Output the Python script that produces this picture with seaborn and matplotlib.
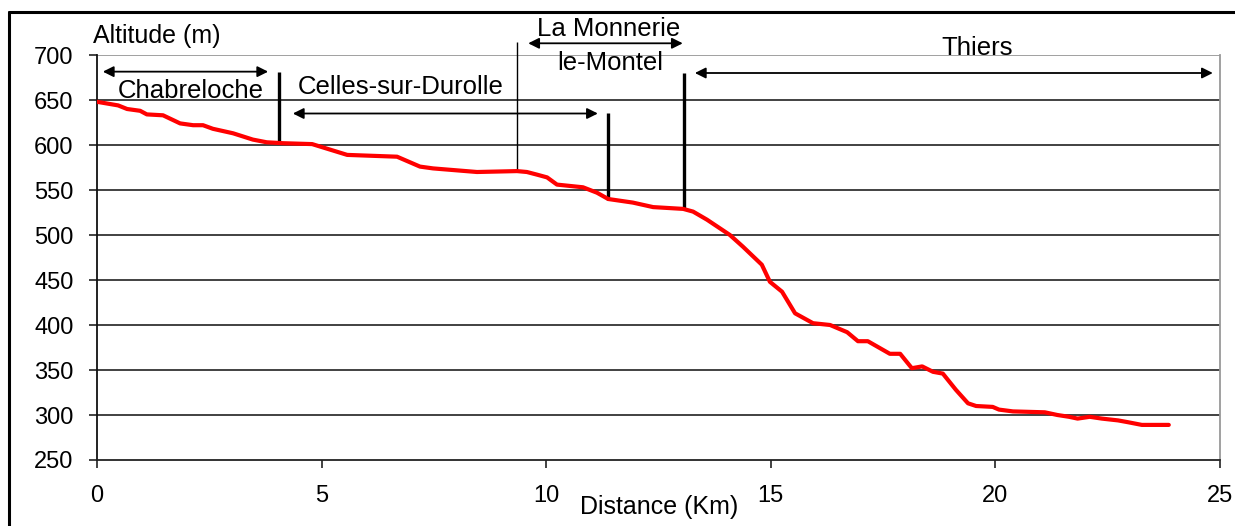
import matplotlib
matplotlib.use("Agg")
import matplotlib.pyplot as plt
from matplotlib.lines import Line2D
import seaborn as sns
import pandas as pd

# ---- data ----
distance_km = [0, 0.47, 0.67, 0.96, 1.11, 1.47, 1.85, 2.14, 2.36, 2.58, 3.03, 3.47, 3.78, 4.14,
               4.79, 5.57, 6.68, 7.19, 7.48, 8.46, 9.35, 9.57, 9.80, 10.02, 10.24, 10.82, 11.13,
               11.38, 11.93, 12.38, 13.05, 13.27, 13.58, 14.09, 14.38, 14.80, 14.98, 15.25, 15.54,
               15.94, 16.32, 16.70, 16.94, 17.16, 17.65, 17.88, 18.14, 18.37, 18.61, 18.83, 19.12,
               19.39, 19.57, 19.94, 20.08, 20.39, 21.10, 21.38, 21.64, 21.83, 22.10, 22.37, 22.73,
               22.95, 23.26, 23.86]
altitude_m = [648, 644, 640, 638, 634, 633, 624, 622, 622, 618, 613, 606, 603, 602,
              601, 589, 587, 576, 574, 570, 571, 570, 567, 564, 556, 553, 547,
              540, 536, 531, 529, 526, 517, 500, 487, 467, 448, 437, 413,
              402, 400, 392, 382, 382, 368, 368, 352, 354, 348, 346, 328,
              313, 310, 309, 306, 304, 303, 300, 298, 296, 298, 296, 294,
              292, 289, 289]

x_ticks = [0, 5, 10, 15, 20, 25]
y_ticks = [250, 300, 350, 400, 450, 500, 550, 600, 650, 700]

# town labels: name, x (km), y (m)
town_names = ["Chabreloche", "Celles-sur-Durolle", "La Monnerie", "le-Montel", "Thiers"]
town_x = [2.09, 6.75, 11.39, 11.42, 19.6]
town_y = [660, 664, 729, 691, 708]

# double arrows: start km, end km, altitude
arrow_start = [0.13, 4.36, 9.60, 13.31]
arrow_end = [3.81, 11.15, 13.04, 24.84]
arrow_y = [681.5, 635, 713, 680]

# boundary markers: km, bottom m, top m, width
marker_x = [4.06, 9.36, 11.38, 13.07]
marker_bottom = [602, 572, 539, 530]
marker_top = [681.5, 715, 636, 680]
marker_width = [2.4, 1.0, 2.4, 2.4]

df = pd.DataFrame({"Distance (Km)": distance_km, "Altitude (m)": altitude_m})

sns.set_theme(style="white")
plt.rcParams["font.family"] = ["Liberation Sans", "DejaVu Sans"]
plt.rcParams["text.color"] = "black"
plt.rcParams["axes.labelcolor"] = "black"
plt.rcParams["xtick.color"] = "black"
plt.rcParams["ytick.color"] = "black"

fig = plt.figure(figsize=(12.35, 5.26), dpi=100)
ax = fig.add_axes([97 / 1235, 1 - 460 / 526, 1123 / 1235, 405 / 526])

# gridlines
for v in y_ticks[1:]:
    ax.axhline(v, color="#999999" if v == 700 else "#333333", lw=1.3, zorder=1)

sns.lineplot(data=df, x="Distance (Km)", y="Altitude (m)", ax=ax, color="#ff0000",
             linewidth=3.0, zorder=5, sort=False)

ax.set_xlim(0, 25)
ax.set_ylim(250, 700)
ax.set_xticks(x_ticks)
ax.set_yticks(y_ticks)
ax.set_xticklabels([str(t) for t in x_ticks])
ax.set_yticklabels([str(t) for t in y_ticks])

ax.spines["top"].set_visible(False)
ax.spines["right"].set_color("#999999")
ax.spines["right"].set_linewidth(1.3)
ax.spines["left"].set_color("#111111")
ax.spines["left"].set_linewidth(1.3)
ax.spines["bottom"].set_color("#222222")
ax.spines["bottom"].set_linewidth(1.3)

ax.tick_params(axis="x", direction="out", length=6, width=1.2, color="#222222",
               labelcolor="black", labelsize=17, pad=12, bottom=True)
ax.tick_params(axis="y", direction="out", length=6, width=1.2, color="#222222",
               labelcolor="black", labelsize=17, pad=11, left=True)

ax.set_xlabel("Distance (Km)", fontsize=18, color="black")
ax.xaxis.set_label_coords(0.5004, -0.116)
ax.xaxis.label.set_va("center")
ax.set_ylabel("Altitude (m)", fontsize=18, rotation=0, ha="left", va="center", color="black")
ax.yaxis.set_label_coords(-0.004, 1.046)

# arrows
for xs, xe, ya in zip(arrow_start, arrow_end, arrow_y):
    ax.annotate("", xy=(xe, ya), xytext=(xs, ya), annotation_clip=False,
                arrowprops=dict(arrowstyle="<|-|>", color="black", lw=1.3,
                                mutation_scale=16, shrinkA=0, shrinkB=0))

# boundary markers
for mx, mb, mt, mw in zip(marker_x, marker_bottom, marker_top, marker_width):
    ax.plot([mx, mx], [mb, mt], color="black", lw=mw, clip_on=False, zorder=4,
            solid_capstyle="butt")

# town labels
for name, tx, ty in zip(town_names, town_x, town_y):
    ax.text(tx, ty, name, fontsize=18.5, ha="center", va="center", color="black",
            clip_on=False, zorder=6)

# figure frame (left + top)
fig.add_artist(Line2D([8.5 / 1235, 8.5 / 1235], [0, 1 - 11.5 / 526], transform=fig.transFigure,
                      color="black", lw=2.2))
fig.add_artist(Line2D([8.5 / 1235, 1], [1 - 11.5 / 526, 1 - 11.5 / 526], transform=fig.transFigure,
                      color="black", lw=2.2))

fig.savefig("out.png", dpi=100, facecolor="white")
